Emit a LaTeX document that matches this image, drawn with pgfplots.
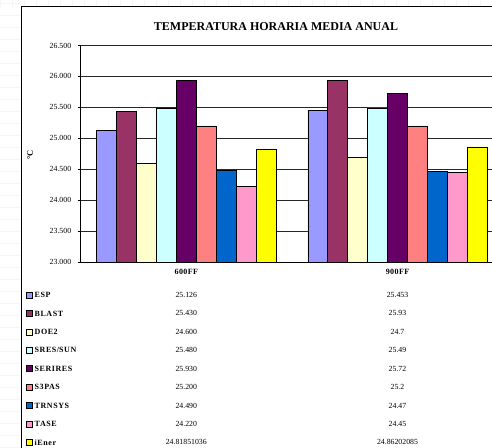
\documentclass[border=0pt]{standalone}
\usepackage{fontspec}
\setmainfont{Liberation Serif}
\usepackage{pgfplots}
\pgfplotsset{compat=1.18}
\definecolor{cESP}{HTML}{9999FF}
\definecolor{cBLAST}{HTML}{993366}
\definecolor{cDOE}{HTML}{FFFFCC}
\definecolor{cSRES}{HTML}{CCFFFF}
\definecolor{cSERI}{HTML}{660066}
\definecolor{cS3}{HTML}{FF8080}
\definecolor{cTRN}{HTML}{0066CC}
\definecolor{cTASE}{HTML}{FF99CC}
\definecolor{cIE}{HTML}{FFFF00}
\newcommand\lblfont{\fontsize{8}{9}\selectfont\bfseries\addfontfeature{LetterSpace=7}}
\newcommand\numfont{\fontsize{7.8}{9}\selectfont}
\begin{document}
\begin{tikzpicture}[x=1pt,y=1pt]
\clip (0,0) rectangle (492,447);
\fill[white] (0,0) rectangle (492,447);
% faint background grid outside the frame
\foreach \i in {0,12,...,492} {\draw[gray!8,line width=0.5pt] (\i,447) -- (\i,440);}
\foreach \j in {0,12,...,447} {\draw[gray!8,line width=0.5pt] (0,\j) -- (21,\j);}
% chart frame
\draw[black,line width=1pt,fill=white] (21,-5) rectangle (500,440);
% title
\node[font=\fontsize{12}{14}\selectfont\bfseries] at (276,420) {TEMPERATURA HORARIA MEDIA ANUAL};
% y label
\node[font=\fontsize{8.5}{9}\selectfont\bfseries,rotate=90] at (30,292) {°C};
\begin{axis}[
  at={(80.7pt,185pt)}, anchor=south west,
  width=422.4pt, height=216.5pt, scale only axis,
  xmin=-0.5, xmax=1.5, ymin=23, ymax=26.5,
  axis x line*=bottom, axis y line*=left,
  axis line style={black,line width=0.8pt},
  xtick={0,1}, xticklabels={600FF,900FF},
  xtick style={draw=none},
  xticklabel style={font=\fontsize{8}{9}\selectfont\bfseries\addfontfeature{LetterSpace=5}, yshift=-1pt},
  ytick={23,23.5,24,24.5,25,25.5,26,26.5},
  yticklabels={23.000,23.500,24.000,24.500,25.000,25.500,26.000,26.500},
  yticklabel style={font=\numfont, xshift=-3pt},
  /pgf/number format/assume math mode=true,
  ytick style={black,line width=0.6pt},
  tick align=outside, major tick length=3pt,
  ymajorgrids, grid style={black!85,line width=0.7pt},
  ybar=0pt, bar width=19.93pt,
  every axis plot/.append style={draw=black,line width=0.6pt},
]
\addplot[fill=cESP]   coordinates {(0,25.126) (1,25.453)};
\addplot[fill=cBLAST] coordinates {(0,25.430) (1,25.93)};
\addplot[fill=cDOE]   coordinates {(0,24.600) (1,24.7)};
\addplot[fill=cSRES]  coordinates {(0,25.480) (1,25.49)};
\addplot[fill=cSERI]  coordinates {(0,25.930) (1,25.72)};
\addplot[fill=cS3]    coordinates {(0,25.200) (1,25.2)};
\addplot[fill=cTRN]   coordinates {(0,24.490) (1,24.47)};
\addplot[fill=cTASE]  coordinates {(0,24.220) (1,24.45)};
\addplot[fill=cIE]    coordinates {(0,24.81851036) (1,24.86202085)};
\end{axis}
% extend bottom axis line slightly left as in the original
\draw[black,line width=0.8pt] (77.7,185) -- (80.7,185);
% data table
\foreach \col/\name/\va/\vb [count=\k from 0] in {
  cESP/ESP/25.126/25.453,
  cBLAST/BLAST/25.430/25.93,
  cDOE/DOE2/24.600/24.7,
  cSRES/SRES\slash SUN/25.480/25.49,
  cSERI/SERIRES/25.930/25.72,
  cS3/S3PAS/25.200/25.2,
  cTRN/TRNSYS/24.490/24.47,
  cTASE/TASE/24.220/24.45,
  cIE/iEner/24.81851036/24.86202085} {
  \pgfmathsetmacro\yy{152-18.42*\k}
  \draw[black,line width=0.6pt,fill=\col] (26,\yy-3) rectangle (32,\yy+3);
  \node[anchor=west,font=\lblfont,inner sep=0pt] at (34.5,\yy) {\name};
  \node[font=\numfont,inner sep=0pt] at (186.3,\yy) {\va};
  \node[font=\numfont,inner sep=0pt] at (397.5,\yy) {\vb};
}
\end{tikzpicture}
\end{document}
